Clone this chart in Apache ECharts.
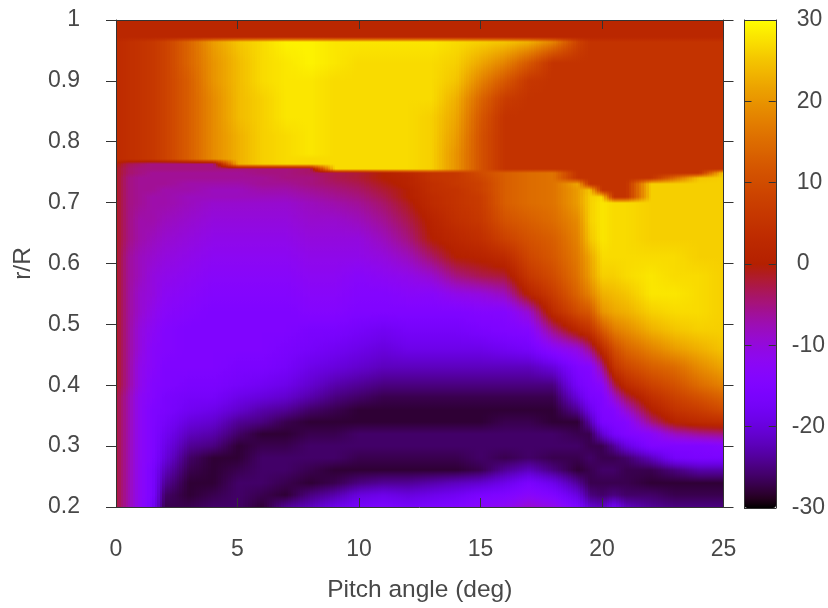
<!DOCTYPE html>
<html><head><meta charset="utf-8">
<style>html,body{margin:0;padding:0;background:#fff}#c{width:828px;height:608px}</style>
<script src="https://cdn.jsdelivr.net/npm/echarts@6/dist/echarts.min.js"></script>
</head><body><div id="c"></div>
<script>
const rowsY=[1.0,.972,.964,.93,.90,.87,.84,.81,.78,.772,.764,.756,.748,.74,.73,.72,.71,.70,.67,.64,.61,.58,.55,.52,.49,.46,.43,.40,.38,.36,.34,.32,.30,.28,.26,.24,.22,.20];
const colsX=[0,.5,1,1.5,2,3,4,5,6,7,8,9,10,11,12,13,14,15,16,17,18,19,19.5,20,20.5,21,22,23,24,25];
const c00=[2,2,3,3,3,3,3,3,3,3,0,-1,-1,-1,-1,-1,-1,-1,-1,-1,-1,-1,-1,-1,-1,-1,-1,-1,-2,-2,-2,-2,-2,-2,-2,-2,-2,-2];
const c01=[2,2,4,4,4,4,4,4,4,4,-3,-4,-4,-5,-5,-5,-5,-5,-5,-5,-6,-6,-6,-6,-6,-6,-6,-6,-7,-7,-7,-7,-7,-7,-7,-7,-7,-7];
const c02=[2,2,5,5,5,5,5,5,5,5,-4,-5,-5,-6,-6,-6,-6,-6,-7,-7,-8,-8,-9,-9,-10,-10,-11,-11,-12,-12,-12,-12,-12,-12,-12,-12,-12,-12];
const c03=[2,2,6,6,6,6,6,6,6,6,-5,-5,-6,-6,-6,-6,-7,-7,-7,-8,-9,-10,-10,-11,-12,-13,-13,-14,-14,-15,-15,-15,-15,-15,-16,-16,-16,-17];
const c04=[2,2,8,8,8,8,8,8,8,8,-5,-5,-6,-6,-6,-7,-7,-7,-8,-9,-10,-11,-12,-13,-14,-14,-15,-15,-16,-16,-17,-18,-19,-20,-22,-24,-26,-27];
const c05=[2,2,14,14,13,13,13,13,13,13,-5,-5,-6,-6,-7,-7,-8,-8,-9,-10,-11,-12,-13,-14,-15,-15,-15,-16,-17,-18,-20,-22,-24,-26,-27,-28,-28,-27];
const c06=[2,2,21,20,20,19,19,19,19,19,-5,-5,-6,-6,-7,-8,-8,-9,-10,-11,-12,-13,-14,-15,-15,-15,-15,-16,-17,-19,-21,-23,-25,-28,-28,-28,-27,-26];
const c07=[2,2,25,24,24,24,24,23,23,23,23,-5,-6,-6,-7,-8,-8,-9,-10,-11,-12,-13,-14,-15,-15,-15,-16,-17,-19,-21,-24,-26,-28,-28,-27,-26,-26,-26];
const c08=[2,2,27,27,27,26,26,26,26,26,26,-5,-5,-6,-6,-7,-8,-9,-10,-11,-12,-13,-14,-15,-15,-15,-16,-18,-20,-23,-25,-28,-27,-26,-26,-26,-27,-28];
const c09=[2,2,29,28,28,28,28,27,27,27,27,-5,-5,-5,-6,-7,-8,-9,-10,-11,-12,-13,-14,-15,-15,-16,-17,-19,-21,-24,-27,-28,-27,-26,-26,-27,-28,-24];
const c10=[2,2,29,29,28,28,28,28,28,27,27,-4,-4,-5,-5,-6,-7,-8,-9,-10,-11,-12,-13,-14,-16,-17,-19,-21,-23,-26,-28,-27,-26,-26,-27,-28,-25,-22];
const c11=[2,2,28,28,27,27,27,27,27,27,27,27,-3,-3,-4,-5,-6,-7,-9,-10,-11,-12,-13,-14,-16,-18,-20,-23,-25,-27,-28,-27,-26,-26,-28,-27,-23,-19];
const c12=[2,2,28,27,27,27,27,27,27,27,27,27,-2,-2,-3,-4,-5,-6,-8,-10,-11,-13,-14,-15,-17,-19,-21,-24,-26,-28,-28,-26,-26,-27,-28,-25,-20,-17];
const c13=[2,2,28,27,27,27,27,27,27,27,27,27,0,0,-1,-2,-3,-4,-6,-8,-10,-12,-14,-15,-18,-20,-22,-25,-27,-28,-28,-26,-26,-27,-28,-24,-19,-16];
const c14=[2,2,28,27,27,27,27,27,27,27,27,27,2,1,1,0,0,-1,-3,-5,-8,-11,-13,-15,-17,-19,-22,-25,-27,-28,-28,-26,-26,-27,-28,-24,-20,-17];
const c15=[2,2,28,27,27,27,26,26,26,26,26,26,5,5,4,4,3,3,1,0,-4,-9,-13,-15,-17,-19,-22,-25,-27,-28,-28,-26,-26,-27,-28,-23,-19,-16];
const c16=[2,2,27,26,25,23,22,21,20,20,20,20,6,6,6,5,5,5,4,2,0,-5,-11,-15,-17,-19,-22,-25,-27,-28,-28,-26,-26,-27,-28,-22,-18,-15];
const c17=[2,2,26,22,18,14,12,11,11,11,11,11,10,9,8,8,7,7,6,4,1,-3,-10,-14,-16,-19,-22,-25,-27,-28,-28,-26,-26,-26,-27,-21,-16,-13];
const c18=[2,2,25,18,12,7,5,5,5,5,5,5,13,13,13,13,13,13,11,8,3,-2,-8,-14,-15,-18,-22,-25,-27,-28,-27,-26,-26,-27,-24,-19,-15,-12];
const c19=[2,2,23,12,6,5,5,5,5,5,5,5,15,15,15,15,15,15,13,11,9,6,1,-9,-14,-17,-22,-25,-27,-28,-27,-26,-26,-26,-22,-16,-13,-9];
const c20=[2,2,18,5,5,5,5,5,5,5,5,5,16,16,16,16,16,16,15,13,12,10,7,3,-5,-13,-20,-25,-27,-28,-28,-26,-26,-27,-25,-19,-15,-11];
const c21=[2,2,8,5,5,5,5,5,5,5,5,5,5,5,22,21,21,21,19,18,17,16,14,10,2,-10,-15,-17,-20,-24,-28,-27,-26,-27,-28,-24,-20,-16];
const c22=[2,2,5,5,5,5,5,5,5,5,5,5,5,5,5,25,26,26,26,25,22,21,18,12,5,-5,-14,-15,-16,-19,-23,-27,-27,-26,-27,-27,-25,-21];
const c23=[2,2,5,5,5,5,5,5,5,5,5,5,5,5,5,5,27,28,28,28,27,26,23,20,12,3,-6,-13,-15,-15,-16,-21,-27,-27,-26,-27,-26,-22];
const c24=[2,2,5,5,5,5,5,5,5,5,5,5,5,5,5,5,5,27,27,27,27,26,24,22,17,10,5,-3,-9,-14,-15,-17,-24,-27,-26,-27,-25,-18];
const c25=[2,2,5,5,5,5,5,5,5,5,5,5,5,5,5,5,5,27,27,27,27,27,25,23,19,14,9,3,-3,-9,-14,-15,-20,-26,-27,-27,-26,-22];
const c26=[2,2,5,5,5,5,5,5,5,5,5,5,5,5,26,26,26,26,26,26,27,28,28,26,23,18,13,8,4,0,-5,-13,-15,-22,-27,-28,-26,-24];
const c27=[2,2,5,5,5,5,5,5,5,5,5,5,5,15,26,26,26,26,26,26,27,27,28,27,25,21,15,11,8,5,1,-8,-15,-17,-25,-28,-27,-25];
const c28=[2,2,5,5,5,5,5,5,5,5,5,5,5,25,26,26,26,26,26,26,26,27,27,27,26,23,19,15,11,7,3,-6,-15,-16,-23,-28,-27,-25];
const c29=[2,2,5,5,5,5,5,5,5,5,5,5,26,26,26,26,26,26,26,26,26,26,26,26,26,25,22,18,14,10,4,-5,-14,-16,-23,-28,-27,-25];
const profiles=[c00,c01,c02,c03,c04,c05,c06,c07,c08,c09,c10,c11,c12,c13,c14,c15,c16,c17,c18,c19,c20,c21,c22,c23,c24,c25,c26,c27,c28,c29];
const xTicks={min:0,max:25,interval:5};
const yTicks={min:0.2,max:1,interval:0.1};
const zTicks={min:-30,max:30,interval:10};
const xTitle='Pitch angle (deg)', yTitle='r/R';

const INK='#333333', TXT='#484848', FONT='"Liberation Sans",Arial,sans-serif', FS=23, FST=24.5;
const G={left:116,width:607.5,top:20,height:488};
const B={left:744.5,width:31.5,top:20,height:488};

// gnuplot 7,5,15 palette
function gp(t){t=Math.max(0,Math.min(1,t));
 const r=Math.sqrt(t),g=t*t*t,b=Math.max(0,Math.sin(2*Math.PI*t));
 return 'rgb('+Math.round(r*255)+','+Math.round(g*255)+','+Math.round(b*255)+')';}
const colorOf=v=>gp((v-zTicks.min)/(zTicks.max-zTicks.min));
const stopsList=[];for(let i=0;i<=60;i++)stopsList.push(gp(i/60));

const cells=[];
for(let i=0;i<colsX.length-1;i++)for(let j=0;j<rowsY.length-1;j++){
 cells.push([colsX[i],colsX[i+1],rowsY[j+1],rowsY[j],
  profiles[i][j],profiles[i+1][j],profiles[i][j+1],profiles[i+1][j+1]]);
}
function renderCell(p,api){
 const x0=api.value(0),x1=api.value(1),yb=api.value(2),yt=api.value(3);
 const a=api.value(4),b=api.value(5),c=api.value(6),d=api.value(7);
 const tl=api.coord([x0,yt]),br=api.coord([x1,yb]);
 const L=Math.round(tl[0]),R=Math.round(br[0]),T=Math.round(tl[1]),Bm=Math.round(br[1]);
 const w=R-L,h=Bm-T;if(w<=0||h<=0)return;
 const n=Math.max(1,Math.round(w/2.5));
 const kids=[];
 for(let k=0;k<n;k++){
  const l=L+Math.round(w*k/n),r=L+Math.round(w*(k+1)/n);
  const s=(k+.5)/n,vt=a+(b-a)*s,vb=c+(d-c)*s;
  const stops=[];for(let q=0;q<=4;q++){stops.push({offset:q/4,color:colorOf(vt+(vb-vt)*q/4)});}
  kids.push({type:'rect',shape:{x:l,y:T,width:r-l,height:h},
   style:{fill:new echarts.graphic.LinearGradient(0,0,0,1,stops)},silent:true});
 }
 return {type:'group',children:kids};
}
const line={show:true,onZero:false,lineStyle:{color:INK,width:1}};
const lab=(m)=>({show:true,color:TXT,fontFamily:FONT,fontSize:FS,margin:m});
const off={show:false};
const chart=echarts.init(document.getElementById('c'),null,{renderer:'canvas'});
chart.setOption({
 animation:false,backgroundColor:'#fff',
 grid:[{...G,containLabel:false,z:0},{...B,containLabel:false}],
 xAxis:[
  {type:'value',gridIndex:0,...xTicks,position:'bottom',z:5,splitLine:off,axisLine:line,
   axisTick:{show:true,inside:true,length:9,lineStyle:{color:INK,width:1}},axisLabel:lab(31),
   name:xTitle,nameLocation:'middle',nameGap:71,nameTextStyle:{color:TXT,fontFamily:FONT,fontSize:FST}},
  {type:'value',gridIndex:0,...xTicks,position:'top',z:5,splitLine:off,axisLine:line,
   axisTick:{show:true,inside:true,length:9,lineStyle:{color:INK,width:1}},axisLabel:off},
  {type:'value',gridIndex:1,min:0,max:1,position:'bottom',z:5,splitLine:off,axisLine:line,axisTick:off,axisLabel:off},
  {type:'value',gridIndex:1,min:0,max:1,position:'top',z:5,splitLine:off,axisLine:line,axisTick:off,axisLabel:off}
 ],
 yAxis:[
  {type:'value',gridIndex:0,...yTicks,position:'left',z:5,splitLine:off,axisLine:line,
   axisTick:{show:true,inside:false,length:10,lineStyle:{color:INK,width:1}},axisLabel:lab(36),
   name:yTitle,nameLocation:'middle',nameGap:80,nameRotate:90,nameTextStyle:{color:TXT,fontFamily:FONT,fontSize:FST}},
  {type:'value',gridIndex:0,...yTicks,position:'right',z:5,splitLine:off,axisLine:line,
   axisTick:{show:true,inside:false,length:10,lineStyle:{color:INK,width:1}},axisLabel:off},
  {type:'value',gridIndex:1,...zTicks,position:'left',z:5,splitLine:off,axisLine:line,
   axisTick:{show:true,inside:true,length:7,lineStyle:{color:INK,width:1}},axisLabel:off},
  {type:'value',gridIndex:1,...zTicks,position:'right',z:5,splitLine:off,axisLine:line,
   axisTick:{show:true,inside:true,length:7,lineStyle:{color:INK,width:1}},
   axisLabel:{...lab(16),formatter:v=>v<0?String(v):'{p|'+v+'}',
    rich:{p:{color:TXT,fontFamily:FONT,fontSize:FS,padding:[0,0,0,5]}}}}
 ],
 visualMap:{type:'continuous',seriesIndex:0,dimension:4,min:zTicks.min,max:zTicks.max,
  left:B.left,top:B.top,itemWidth:B.width,itemHeight:B.height,padding:0,calculable:false,
  hoverLink:false,realtime:false,showLabel:false,inRange:{color:stopsList},z:1},
 series:[{type:'custom',xAxisIndex:0,yAxisIndex:0,coordinateSystem:'cartesian2d',silent:true,
  renderItem:renderCell,data:cells,encode:{x:[0,1],y:[2,3]},clip:true,progressive:0,z:2}]
});
</script></body></html>
